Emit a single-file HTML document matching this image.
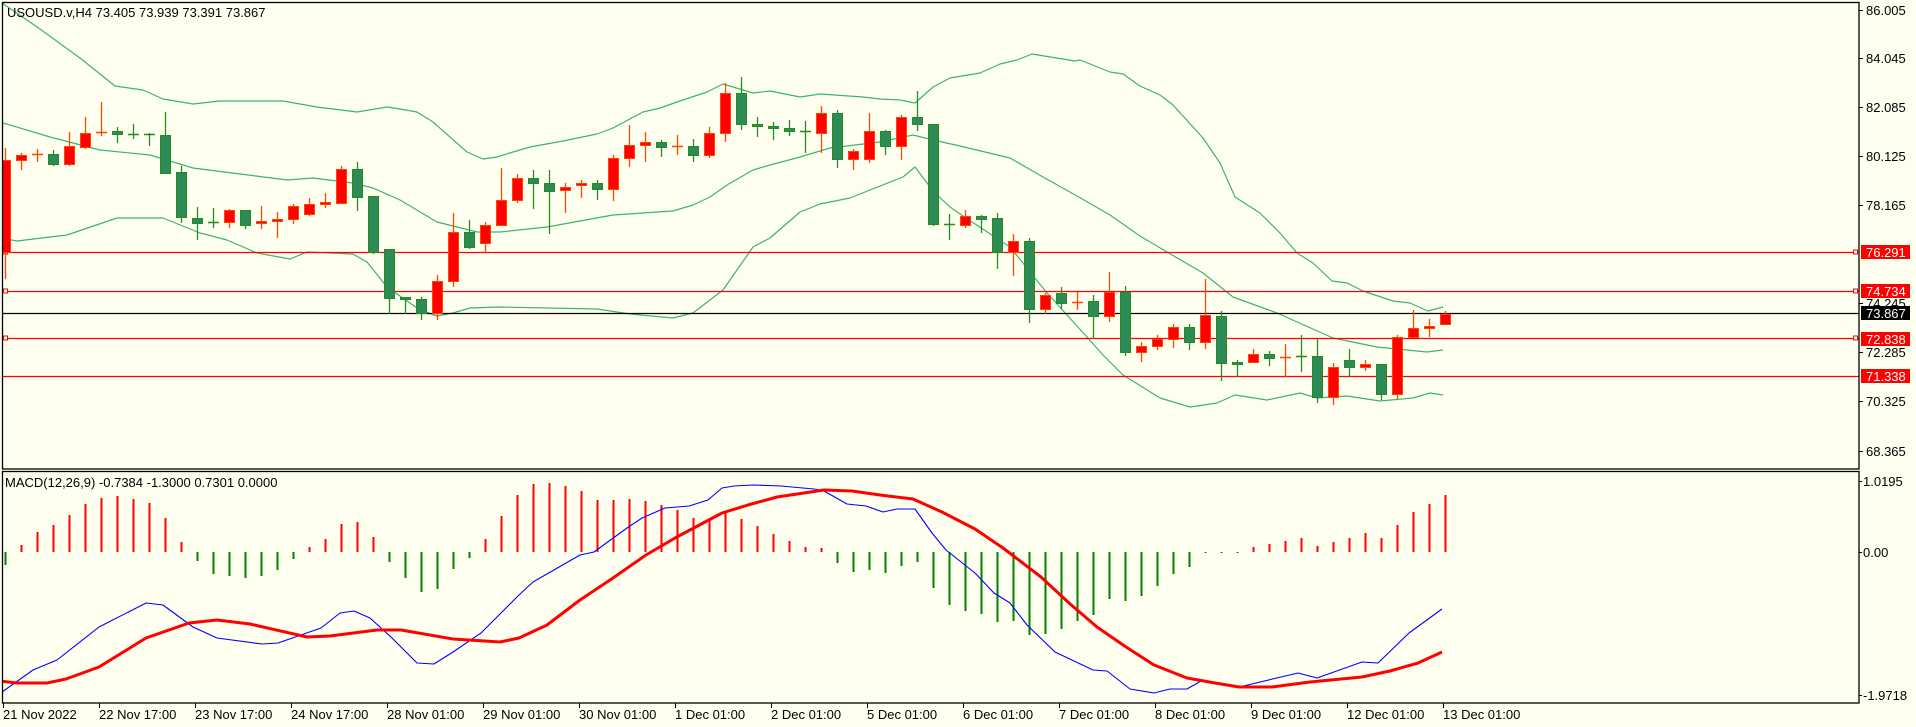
<!DOCTYPE html>
<html><head><meta charset="utf-8">
<style>
html,body{margin:0;padding:0;background:#fffff0;}
svg{display:block;font-family:"Liberation Sans",Tahoma,sans-serif;}
</style></head>
<body>
<svg id="s" width="1916" height="727" viewBox="0 0 1916 727" xmlns="http://www.w3.org/2000/svg">
<rect x="0" y="0" width="1916" height="727" fill="#fffff0"/>
<defs>
<clipPath id="cm"><rect x="3" y="3" width="1856" height="466"/></clipPath>
<clipPath id="cd"><rect x="3" y="472" width="1856" height="231"/></clipPath>
</defs>
<g id="main" clip-path="url(#cm)"></g>
<g id="macd" clip-path="url(#cd)"></g>
<g id="axes"></g>
</svg>
<script>
var NS="http://www.w3.org/2000/svg";
function el(p,t,a,txt){var e=document.createElementNS(NS,t);for(var k in a)e.setAttribute(k,a[k]);if(txt!==undefined)e.textContent=txt;p.appendChild(e);return e;}
var M=document.getElementById('main'),D=document.getElementById('macd'),A=document.getElementById('axes');
function poly(p,pts,col,w){el(p,'polyline',{points:pts.map(function(q){return q.join(',')}).join(' '),fill:'none',stroke:col,'stroke-width':w,'stroke-linejoin':'round'});}
// Bollinger
var up=[[2,3],[40,29],[80,58],[115,86],[143,90],[163,99],[193,104],[220,101],[283,101],[317,107],[357,112],[387,107],[400,109],[417,112],[433,122],[467,152],[483,159],[497,157],[513,152],[530,147],[563,141],[597,134],[613,128],[643,112],[660,108],[680,101],[707,92],[723,84],[753,93],[770,91],[800,97],[820,94],[863,97],[880,99],[900,100],[915,103],[933,87],[950,78],[980,73],[1000,64],[1017,60],[1032,54],[1075,61],[1080,60],[1110,72],[1123,74],[1140,86],[1160,95],[1173,105],[1203,138],[1220,163],[1235,197],[1260,213],[1280,233],[1297,253],[1313,263],[1332,281],[1347,283],[1363,291],[1393,301],[1410,303],[1428,311],[1443,307]];
var mid=[[0,122],[50,137],[100,150],[150,155],[193,168],[287,180],[313,178],[353,183],[373,188],[400,200],[437,222],[477,232],[500,232],[547,227],[613,215],[673,211],[693,205],[710,197],[727,185],[753,170],[770,165],[800,157],[830,148],[880,142],[913,135],[933,140],[960,146],[1010,158],[1043,177],[1077,196],[1110,215],[1140,236],[1167,252],[1203,273],[1233,297],[1277,313],[1333,338],[1377,347],[1427,352],[1443,350]];
var lo=[[0,238],[17,241],[67,235],[117,218],[163,218],[200,233],[227,240],[257,253],[290,259],[307,252],[353,254],[367,262],[387,287],[420,310],[437,316],[453,313],[470,308],[500,307],[597,309],[630,314],[673,318],[693,313],[723,290],[753,247],[770,238],[800,212],[820,204],[850,198],[870,190],[903,177],[915,167],[933,191],[950,207],[960,214],[1010,247],[1047,293],[1087,337],[1103,355],[1123,375],[1160,398],[1190,407],[1217,403],[1235,395],[1267,400],[1300,393],[1317,398],[1347,396],[1380,401],[1413,398],[1430,393],[1443,395]];
[up,mid,lo].forEach(function(b){poly(M,b,'#3cb371',1.2);});
// horizontal lines
[252,291,338,376].forEach(function(y){el(M,'line',{x1:0,y1:y+0.5,x2:1859,y2:y+0.5,stroke:'#ff0000','stroke-width':1.3});});
el(M,'line',{x1:0,y1:313.5,x2:1859,y2:313.5,stroke:'#000','stroke-width':1.3});
[252,291,338].forEach(function(y){el(M,'rect',{x:3.5,y:y-2,width:4,height:4,fill:'#fffff0',stroke:'#ff0000','stroke-width':1});el(M,'rect',{x:1853.5,y:y-2,width:4,height:4,fill:'#fffff0',stroke:'#ff0000','stroke-width':1});});
// candles [red?,bt,bb,wt,wb]
var C=[[1,160,252,148,278],[1,155,160,153,169],[1,154,154,149,161],[0,154,164,150,165],[1,146,164,132,165],[1,133,147,117,148],[1,132,133,102,135],[0,131,134,127,142],[0,134,134,124,138],[0,134,135,133,145],
[0,135,173,112,173],[0,172,217,166,222],[0,218,223,207,239],[0,222,223,208,227],[1,210,222,209,227],[0,210,225,210,228],[1,221,223,206,228],[1,219,221,212,237],[1,206,219,204,223],[1,204,214,198,215],
[1,202,204,193,207],[1,169,203,166,203],[0,169,197,162,210],[0,196,252,196,253],[0,249,298,249,313],[0,297,299,297,313],[0,299,313,297,319],[1,281,313,275,319],[1,232,281,213,286],[0,232,247,220,248],
[1,225,243,222,252],[1,200,225,168,225],[1,178,200,174,202],[0,178,183,170,208],[0,183,191,170,233],[1,187,190,183,212],[1,183,185,180,197],[0,183,189,180,199],[1,158,189,155,200],[1,145,158,125,166],
[1,142,145,132,161],[0,142,147,140,156],[1,146,146,135,154],[0,146,155,139,161],[1,133,155,127,157],[1,93,133,83,141],[0,93,124,77,129],[0,124,126,117,136],[0,126,128,122,139],[0,128,131,120,135],
[0,131,132,121,152],[1,113,133,106,152],[0,113,159,110,167],[1,151,159,149,169],[1,131,159,113,162],[0,131,146,130,154],[1,117,146,115,159],[0,117,124,91,130],[0,124,224,124,225],[0,224,224,214,239],
[1,216,225,210,227],[0,216,219,215,232],[0,218,252,213,268],[1,241,252,234,275],[0,241,309,238,322],[1,295,309,293,313],[0,293,303,287,308],[1,302,302,292,309],[0,301,316,295,338],[1,292,316,272,321],
[0,292,352,286,355],[1,346,352,342,361],[1,339,346,335,349],[1,327,339,324,347],[0,327,342,324,349],[1,315,342,279,348],[0,316,363,311,380],[0,362,364,360,376],[1,354,362,349,362],[0,354,358,351,365],
[1,357,357,344,376],[0,356,356,335,371],[0,356,397,339,402],[1,367,397,363,404],[0,360,367,349,376],[1,364,367,360,370],[0,364,394,364,399],[1,337,394,335,398],[1,328,337,310,337],[1,326,328,319,336],
[1,314,324,311,324]];
C.forEach(function(c,i){var x=5+16*i;var red=c[0];var wc=red?'#ff4500':'#228b22';var fc=red?'#ff0000':'#2e8b57';
 el(M,'line',{x1:x+0.5,y1:c[3],x2:x+0.5,y2:c[4]+1,stroke:wc,'stroke-width':1.3});
 var h=c[2]-c[1];
 if(h<2){el(M,'line',{x1:x-5,y1:c[1]+0.5,x2:x+6,y2:c[1]+0.5,stroke:wc,'stroke-width':1.5});}
 else el(M,'rect',{x:x-4.5,y:c[1]+0.5,width:10,height:h,fill:fc,stroke:wc,'stroke-width':1});
});
// MACD histogram
var H=[565,545,532,525,515,504,498,496,499,503,518,542,561,574,576,578,576,570,559,547,539,524,522,537,562,578,592,589,569,558,539,516,495,484,483,486,491,500,500,499,501,505,510,518,520,512,519,526,534,541,547,548,563,572,570,573,566,562,588,605,611,614,622,621,635,634,629,621,615,599,601,596,586,574,567,553,553,553,547,544,541,538,546,542,538,533,538,525,512,504,495];
H.forEach(function(y,i){var x=5+16*i;var col=y<552?'#ff0000':'#008000';el(D,'line',{x1:x+0.5,y1:552,x2:x+0.5,y2:y,stroke:col,'stroke-width':2});});
var sig=[[0,681],[17,683],[47,683],[66,679],[99,667],[146,638],[189,623],[217,620],[250,624],[307,637],[330,636],[377,630],[401,630],[453,639],[500,642],[519,638],[547,625],[580,600],[613,578],[646,555],[675,538],[722,513],[748,505],[777,497],[824,490],[852,491],[880,495],[913,499],[942,512],[975,529],[1003,548],[1041,577],[1069,603],[1097,627],[1126,647],[1154,665],[1187,678],[1215,683],[1239,687],[1272,687],[1310,682],[1362,677],[1390,671],[1418,663],[1442,652]];
var mac=[[2,692],[33,670],[57,660],[99,627],[146,603],[163,605],[193,627],[217,638],[262,644],[278,643],[321,628],[340,613],[354,611],[370,618],[392,638],[417,663],[434,664],[453,652],[481,633],[519,595],[533,582],[580,555],[594,552],[627,528],[642,518],[665,508],[689,506],[708,500],[722,488],[734,486],[753,485],[781,486],[814,489],[824,491],[847,504],[866,506],[883,512],[897,509],[915,509],[932,533],[946,550],[975,573],[994,593],[1010,603],[1027,625],[1055,652],[1093,670],[1107,671],[1130,689],[1154,693],[1170,689],[1187,689],[1201,681],[1239,687],[1281,677],[1298,673],[1317,678],[1362,662],[1378,663],[1409,633],[1442,609]];
poly(D,mac,'#0000ff',1.1);
poly(D,sig,'#ff0000',3);
// frames
el(A,'rect',{x:2.5,y:2.5,width:1856.5,height:466.5,fill:'none',stroke:'#000','stroke-width':1.3});
el(A,'rect',{x:2.5,y:471.5,width:1856.5,height:231.5,fill:'none',stroke:'#000','stroke-width':1.3});
var fs={'font-size':13,fill:'#000'};
function t(p,x,y,s,col,anchor){var a={x:x,y:y,'font-size':13,fill:col||'#000'};return el(p,'text',a,s);}
t(A,7,17,'USOUSD.v,H4  73.405 73.939 73.391 73.867').setAttribute('xml:space','preserve');
t(A,5,487,'MACD(12,26,9) -0.7384 -1.3000 0.7301 0.0000');
// price axis
[['86.005',10],['84.045',58],['82.085',107],['80.125',156],['78.165',205],['72.285',352],['70.325',401],['68.365',451]].forEach(function(p){
 el(A,'line',{x1:1859,y1:p[1]+0.5,x2:1863,y2:p[1]+0.5,stroke:'#000','stroke-width':1});t(A,1866,p[1]+5,p[0]);});
t(A,1866,308,'74.245');
el(A,'line',{x1:1859,y1:303.5,x2:1863,y2:303.5,stroke:'#000','stroke-width':1});
[['76.291',252,'#ff0000'],['74.734',291,'#ff0000'],['72.838',339,'#ff0000'],['71.338',376,'#ff0000'],['73.867',313,'#000']].forEach(function(p){
 el(A,'rect',{x:1861,y:p[1]-7,width:49,height:14,fill:p[2]});t(A,1866,p[1]+5,p[0],'#fff');});
// macd axis
[['1.0195',481],['0.00',552],['-1.9718',695]].forEach(function(p){el(A,'line',{x1:1859,y1:p[1]+0.5,x2:1862,y2:p[1]+0.5,stroke:'#000','stroke-width':1});t(A,1863,p[1]+5,p[0]);});
// time axis
var L=['21 Nov 2022','22 Nov 17:00','23 Nov 17:00','24 Nov 17:00','28 Nov 01:00','29 Nov 01:00','30 Nov 01:00','1 Dec 01:00','2 Dec 01:00','5 Dec 01:00','6 Dec 01:00','7 Dec 01:00','8 Dec 01:00','9 Dec 01:00','12 Dec 01:00','13 Dec 01:00'];
L.forEach(function(s,k){var x=3+96*k;el(A,'line',{x1:x+0.5,y1:703,x2:x+0.5,y2:708,stroke:'#000','stroke-width':1});t(A,x,719,s);});
</script>
</body></html>
